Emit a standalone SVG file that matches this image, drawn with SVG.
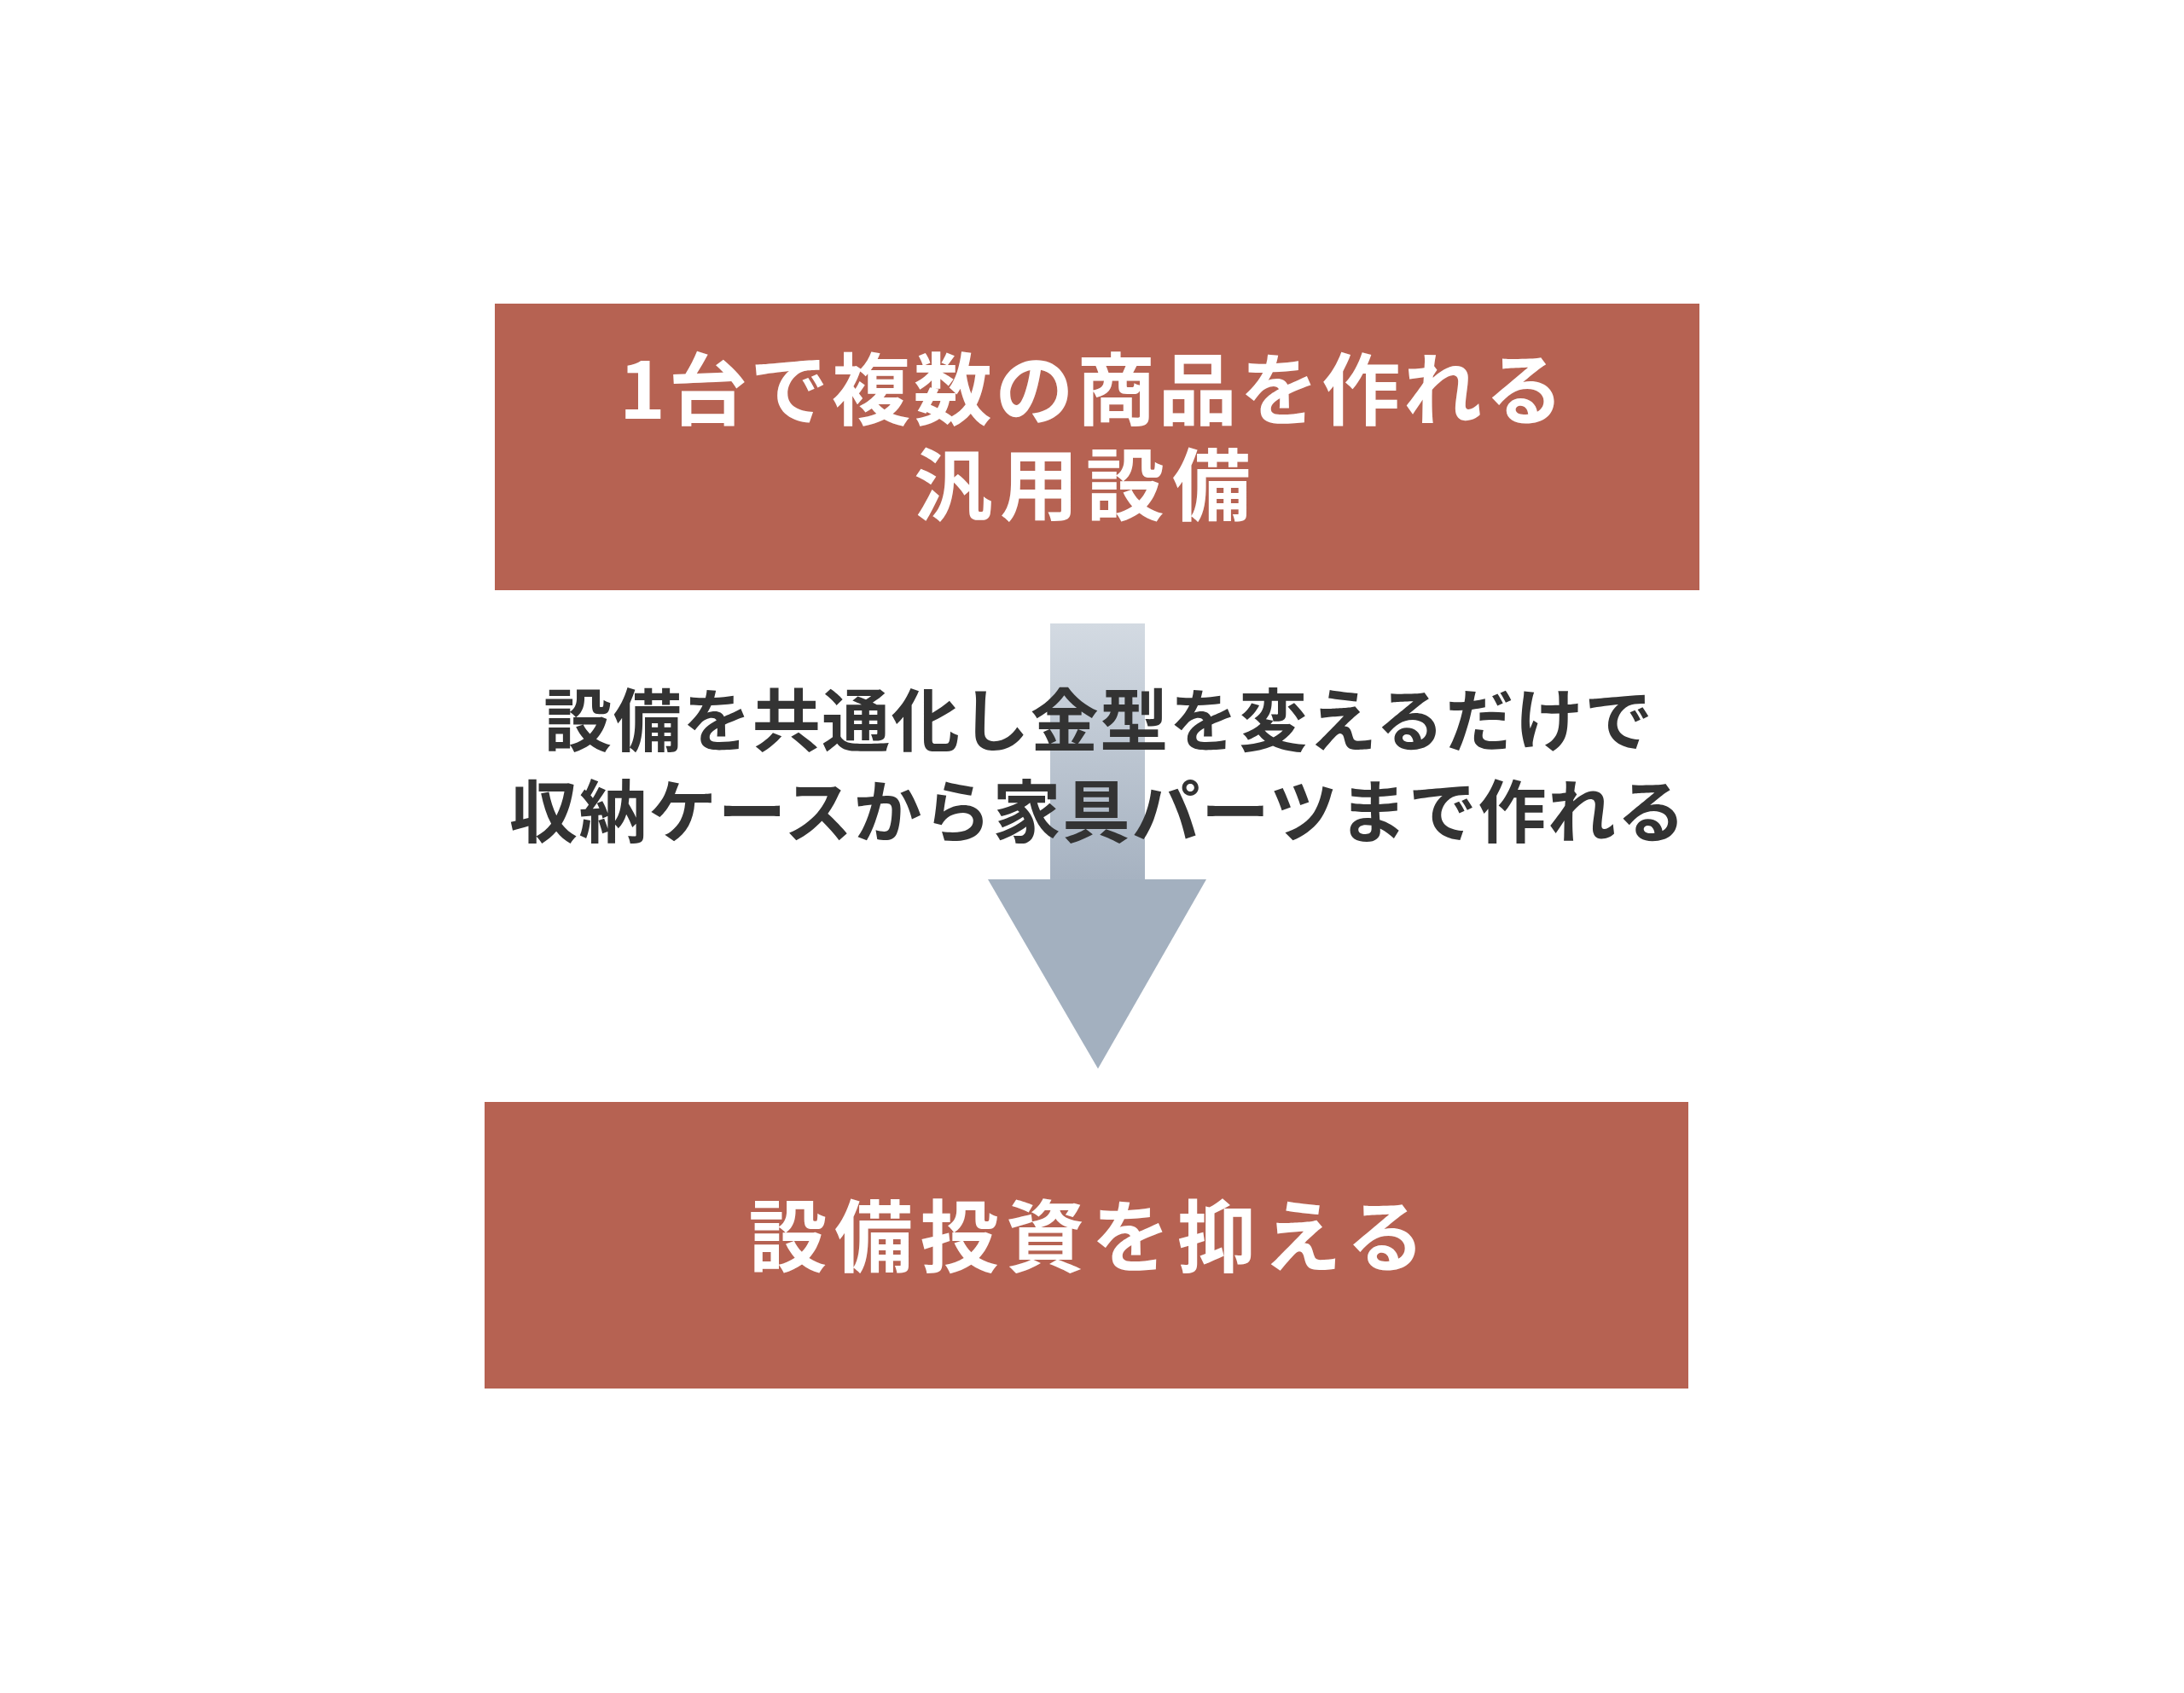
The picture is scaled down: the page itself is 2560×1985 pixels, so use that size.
<svg xmlns="http://www.w3.org/2000/svg" width="2560" height="1985" viewBox="0 0 2560 1985">
<style>
.box{fill:#B66252}
.t{font-family:"Noto Sans CJK JP","Noto Sans",sans-serif;font-weight:700;text-anchor:middle}
.w{fill:#FFFFFF;font-size:92px}
.d{fill:#333333;font-size:80px;letter-spacing:1.5px}
</style>
<defs>
<linearGradient id="shaft" x1="0" y1="0" x2="0" y2="1">
<stop offset="0" stop-color="#D3DAE2"/>
<stop offset="1" stop-color="#A6B2C1"/>
</linearGradient>
</defs>
<rect width="2560" height="1985" fill="#FFFFFF"/>
<g id="connectors">
<rect x="1231" y="731" width="111" height="301" fill="url(#shaft)"/>
<polygon points="1158,1031 1414,1031 1287,1253" fill="#A3B0BF"/>
</g>
<g id="node-top">
<rect class="box" x="580" y="356" width="1412" height="336"/>
<text class="t w"><tspan x="1281" y="491" letter-spacing="3.7">1台で複数の商品を作れる</tspan><tspan x="1273" y="603" letter-spacing="9">汎用設備</tspan></text>
</g>
<g id="label-middle">
<text class="t d"><tspan x="1288" y="874">設備を共通化し金型を変えるだけで</tspan><tspan x="1287" y="981">収納ケースから家具パーツまで作れる</tspan></text>
</g>
<g id="node-bottom">
<rect class="box" x="568" y="1292" width="1411" height="336"/>
<text class="t w" x="1278" y="1484" letter-spacing="8.5">設備投資を抑える</text>
</g>
</svg>
